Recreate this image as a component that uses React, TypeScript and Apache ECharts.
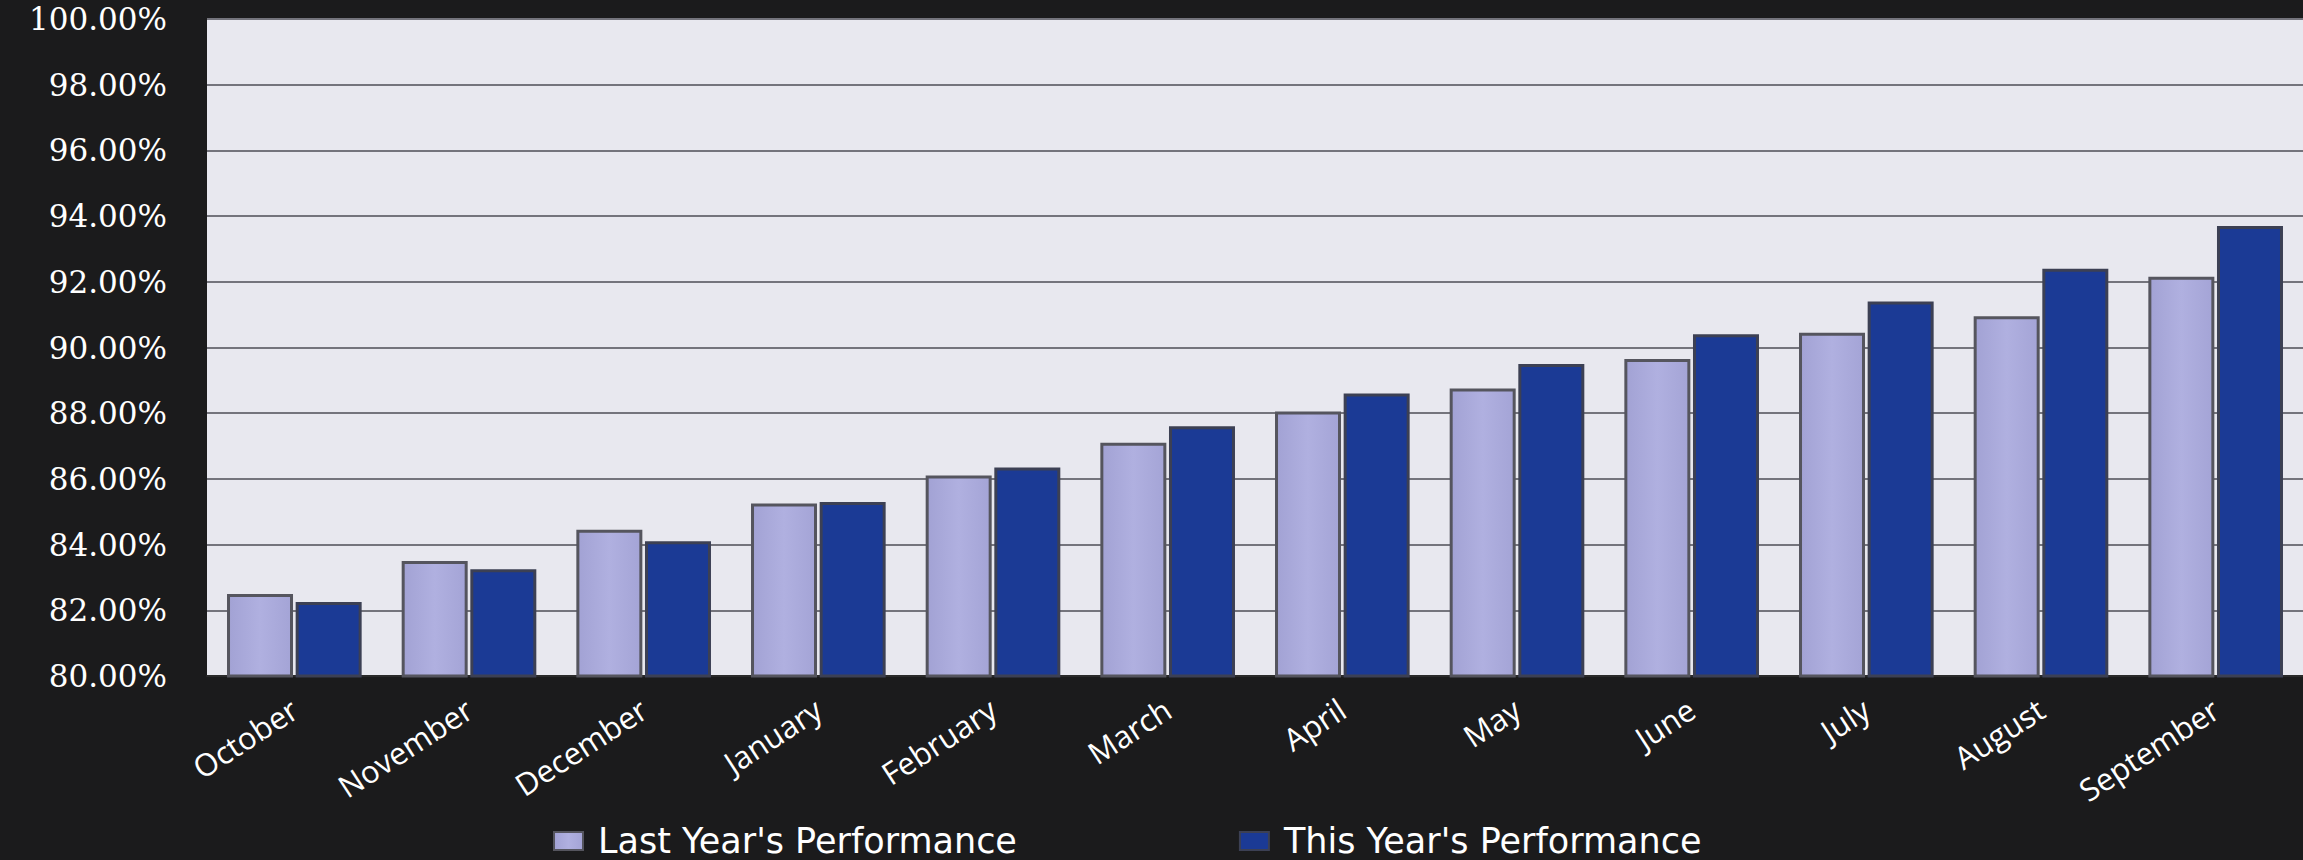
import React, { useEffect, useRef } from "react";
import * as echarts from "echarts";

const months = ["October", "November", "December", "January", "February", "March", "April", "May", "June", "July", "August", "September"];
const lastYear = [82.5, 83.5, 84.45, 85.25, 86.1, 87.1, 88.05, 88.75, 89.65, 90.45, 90.95, 92.15];
const thisYear = [82.25, 83.25, 84.1, 85.3, 86.35, 87.6, 88.6, 89.5, 90.4, 91.4, 92.4, 93.7];
const seriesNames = ["Last Year's Performance", "This Year's Performance"];
const yMin = 80;
const yMax = 100;
const yStep = 2;

export default function App() {
  const ref = useRef<HTMLDivElement>(null);
  useEffect(() => {
    document.body.style.margin = "0";
    const chart = echarts.init(ref.current!, null, { renderer: "svg" });
    chart.setOption({
      animation: false,
      backgroundColor: "#1b1b1c",
      grid: { left: 207, right: -14, top: 19, bottom: 184, containLabel: false, show: true, backgroundColor: "#e8e8ef", borderWidth: 0 },
      legend: {
        left: 548,
        top: 817,
        itemWidth: 29,
        itemHeight: 18,
        itemGap: 222,
        icon: "rect",
        textStyle: { color: "#ffffff", fontSize: 35, lineHeight: 38, fontFamily: "DejaVu Sans", padding: [0, 0, 0, 10] },
        data: seriesNames,
      },
      xAxis: {
        type: "category",
        data: months,
        axisLine: { show: true, lineStyle: { color: "#2a2a2a", width: 2 } },
        axisTick: { show: false },
        axisLabel: { color: "#ffffff", fontSize: 31, fontFamily: "Open Sans", rotate: 33, margin: 30, interval: 0 },
      },
      yAxis: {
        type: "value",
        min: yMin,
        max: yMax,
        interval: yStep,
        axisLine: { show: false },
        axisTick: { show: false },
        splitLine: { show: true, lineStyle: { color: "#74747c", width: 2 } },
        axisLabel: {
          color: "#ffffff",
          fontSize: 31,
          fontFamily: "DejaVu Serif",
          margin: 40,
          formatter: (v: number) => v.toFixed(2) + "%",
        },
      },
      series: [
        {
          name: seriesNames[0],
          type: "bar",
          data: lastYear,
          barWidth: 66,
          barGap: "4%",
          itemStyle: {
            color: new echarts.graphic.LinearGradient(0, 0, 1, 0, [
              { offset: 0, color: "#a2a2d4" },
              { offset: 0.5, color: "#b0b0e0" },
              { offset: 1, color: "#a4a4d6" },
            ]),
            borderColor: "#55555e",
            borderWidth: 3,
          },
        },
        {
          name: seriesNames[1],
          type: "bar",
          data: thisYear,
          barWidth: 66,
          itemStyle: {
            color: "#1b3a95",
            borderColor: "#3c4054",
            borderWidth: 3,
          },
        },
      ],
    });
    return () => chart.dispose();
  }, []);
  return <div ref={ref} style={{ position: "fixed", left: 0, top: 0, width: 2303, height: 860 }} />;
}
